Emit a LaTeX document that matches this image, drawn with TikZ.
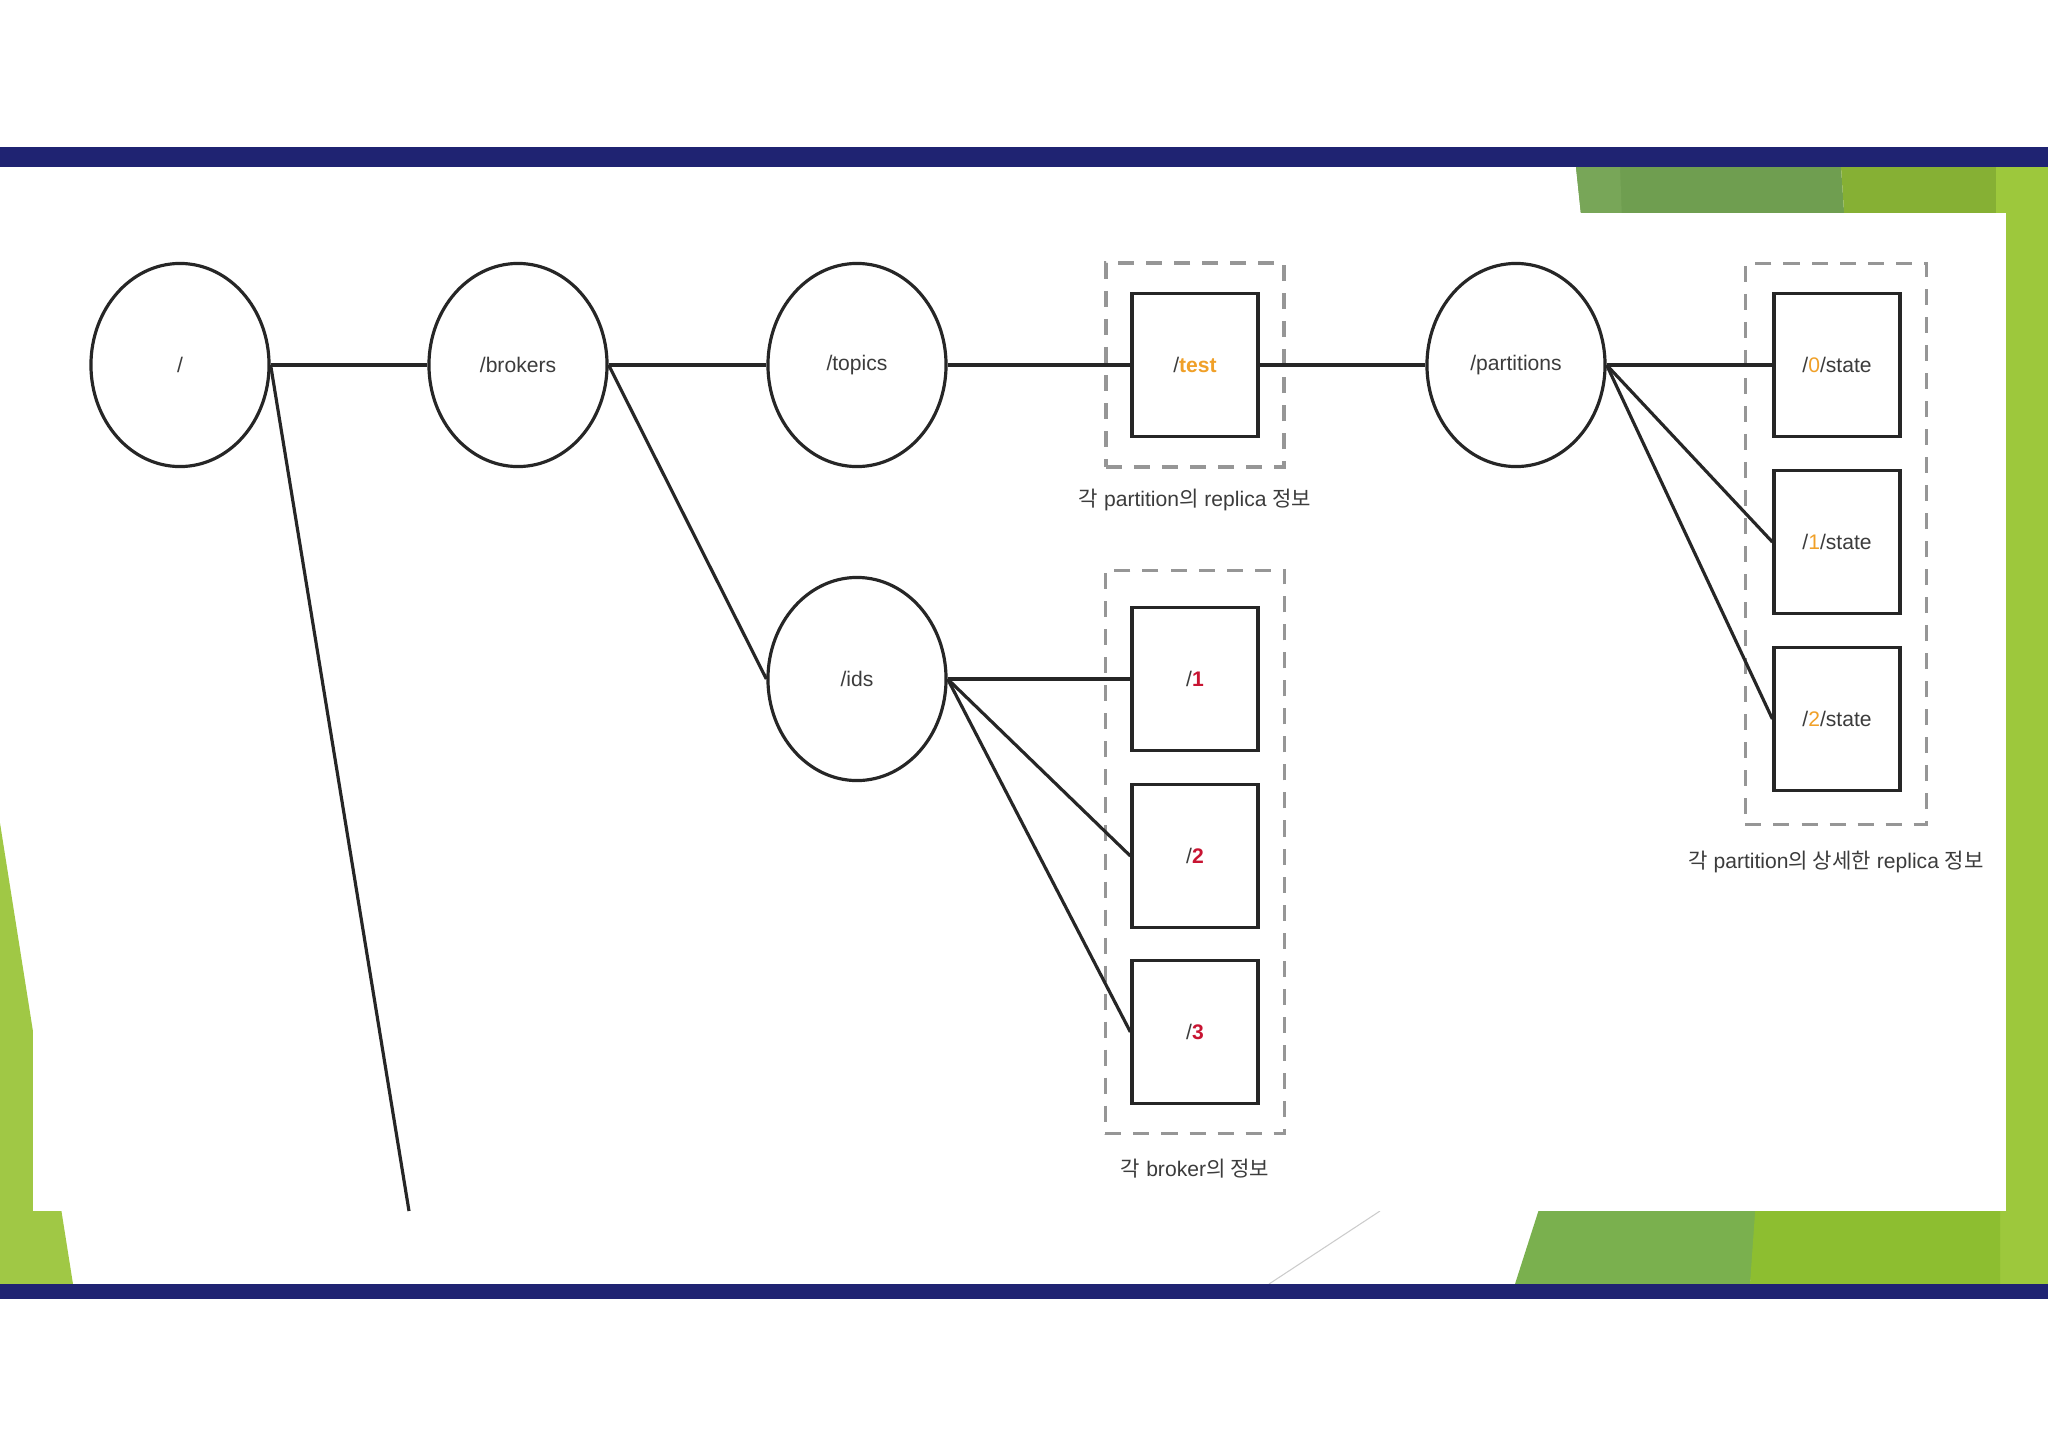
\documentclass[tikz,border=0pt]{standalone}
\usepackage{fontspec}
\setmainfont{Liberation Sans}
\newfontfamily\kr{Noto Sans CJK KR}
\usetikzlibrary{shapes.geometric}
\definecolor{navy}{RGB}{31,35,114}
\definecolor{gdark}{RGB}{111,158,80}
\definecolor{gdarkb}{RGB}{120,166,88}
\definecolor{gmid}{RGB}{134,176,52}
\definecolor{glight}{RGB}{157,200,60}
\definecolor{gleft}{RGB}{160,200,69}
\definecolor{gbr}{RGB}{122,176,78}
\definecolor{gbr2}{RGB}{141,190,48}
\definecolor{txt}{RGB}{60,60,60}
\definecolor{dashgrey}{RGB}{150,150,150}
\definecolor{orng}{RGB}{240,160,40}
\definecolor{crim}{RGB}{200,20,50}
\begin{document}
\begin{tikzpicture}[x=0.01cm,y=-0.01cm]
\tikzset{
  ell/.style={ellipse, draw=black!85, line width=0.9pt, minimum width=1.78cm, minimum height=2.03cm, inner sep=0pt, font=\fontsize{6}{7}\selectfont, text=txt},
  sq/.style={rectangle, draw=black!85, line width=0.9pt, minimum width=1.26cm, minimum height=1.43cm, inner sep=0pt, font=\fontsize{6}{7}\selectfont, text=txt},
  grp/.style={rectangle, draw=dashgrey, line width=0.9pt, dash pattern=on 0.16cm off 0.12cm, inner sep=0pt},
  conn/.style={draw=black!85, line width=0.9pt},
  lbltext/.style={font=\fontsize{6}{7}\selectfont, text=txt, inner sep=0pt}
}
% background
\fill[white] (0,0) rectangle (2048,1448);
\useasboundingbox (0,0) rectangle (2048,1448);
% green decorations
\fill[gdark] (1576,167) -- (1841,167) -- (1850,300) -- (1590,300) -- cycle;
\fill[gdarkb] (1576,167) -- (1620,167) -- (1625,300) -- (1590,300) -- cycle;
\fill[gmid] (1841,167) -- (1996,167) -- (1996,300) -- (1850,300) -- cycle;
\fill[glight] (1996,167) -- (2048,167) -- (2048,1284) -- (1996,1284) -- cycle;
\fill[gleft] (0,823) -- (73,1284) -- (0,1284) -- cycle;
\fill[gbr] (1574,1100) -- (1780,1100) -- (1750,1284) -- (1515,1284) -- cycle;
\fill[gbr2] (1763,1100) -- (2000,1100) -- (2000,1284) -- (1750,1284) -- cycle;
\draw[black!20, line width=0.3pt] (1380,1211) -- (1269,1284);
% screenshot area
\fill[white] (33,213) rectangle (2006,1211);
\fill[white] (0,167) rectangle (1576,213);
% navy bars
\fill[navy] (0,147) rectangle (2048,167);
\fill[navy] (0,1284) rectangle (2048,1299);

% nodes
\node[ell] (root) at (180,365) {/};
\node[ell] (brokers) at (518,365) {/brokers};
\node[ell] (topics) at (857,365) {/topics};
\node[ell] (ids) at (857,679) {/ids};
\node[ell] (parts) at (1516,365) {/partitions};

\node[grp, minimum width=1.78cm, minimum height=2.04cm] (g1) at (1195,365) {};
\node[sq] (test) at (1195,365) {/\textcolor{orng}{\bfseries test}};
\node[lbltext] (l1) at (1195,500) {{\kr 각} partition{\kr 의} replica {\kr 정보}};

\node[grp, minimum width=1.79cm, minimum height=5.63cm] (g2) at (1195,852) {};
\node[sq] (b1) at (1195,679) {/\textcolor{crim}{\bfseries 1}};
\node[sq] (b2) at (1195,856) {/\textcolor{crim}{\bfseries 2}};
\node[sq] (b3) at (1195,1032) {/\textcolor{crim}{\bfseries 3}};
\node[lbltext] (l2) at (1195,1169) {{\kr 각} broker{\kr 의 정보}};

\node[grp, minimum width=1.81cm, minimum height=5.60cm] (g3) at (1836,544) {};
\node[sq] (s0) at (1837,365) {/\textcolor{orng}{0}/state};
\node[sq] (s1) at (1837,542) {/\textcolor{orng}{1}/state};
\node[sq] (s2) at (1837,719) {/\textcolor{orng}{2}/state};
\node[lbltext] (l3) at (1836,862) {{\kr 각} partition{\kr 의 상세한} replica {\kr 정보}};

\coordinate (rootend) at (409,1211);

% connectors
\draw[conn] (root.east) -- (brokers.west);
\draw[conn] (brokers.east) -- (topics.west);
\draw[conn] (topics.east) -- (test.west);
\draw[conn] (test.east) -- (parts.west);
\draw[conn] (parts.east) -- (s0.west);
\draw[conn] (parts.east) -- (s1.west);
\draw[conn] (parts.east) -- (s2.west);
\draw[conn] (brokers.east) -- (ids.west);
\draw[conn] (ids.east) -- (b1.west);
\draw[conn] (ids.east) -- (b2.west);
\draw[conn] (ids.east) -- (b3.west);
\draw[conn] (root.east) -- (rootend);
\end{tikzpicture}
\end{document}
